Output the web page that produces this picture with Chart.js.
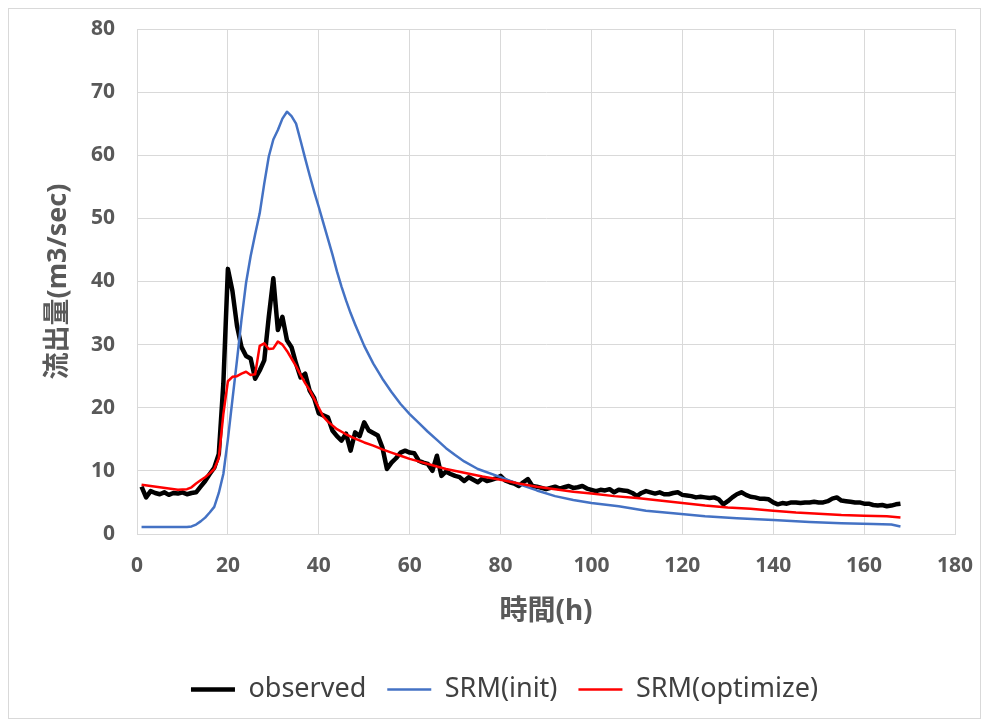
<!DOCTYPE html>
<html>
<head>
<meta charset="utf-8">
<title>流出量</title>
<script src="https://cdn.jsdelivr.net/npm/chart.js@4.4.1/dist/chart.umd.min.js"></script>
<style>
    html, body { margin: 0; padding: 0; background: #ffffff; }
    #wrap { position: relative; width: 987px; height: 724px; }
    #frame {
        position: absolute; left: 8px; top: 8px; width: 971px; height: 709px;
        border: 1px solid #d9d9d9; pointer-events: none;
    }
</style>
</head>
<body>
<div id="wrap">
    <canvas id="flow-chart" width="987" height="724"></canvas>
    <div id="frame"></div>
</div>
<script>
// Observed discharge, one value per hour starting at hour 1
const observedStart = 1;
const observedFlow = [
    7.5, 5.8, 6.8, 6.5, 6.3, 6.6, 6.2, 6.5, 6.4, 6.6,
    6.3, 6.5, 6.6, 7.5, 8.4, 9.5, 10.5, 12.7, 23.8, 42.0,
    38.5, 33.0, 29.6, 28.2, 27.8, 24.6, 25.9, 27.5, 34.4, 40.5,
    32.3, 34.4, 30.7, 29.6, 27.0, 24.8, 25.4, 22.7, 21.5, 19.1,
    18.8, 18.5, 16.4, 15.5, 14.8, 15.9, 13.2, 16.1, 15.5, 17.7,
    16.4, 16.0, 15.6, 13.7, 10.3, 11.3, 12.0, 12.9, 13.2, 12.9,
    12.8, 11.6, 11.3, 11.1, 10.0, 12.4, 9.2, 9.9, 9.5, 9.2,
    9.0, 8.4, 9.0, 8.6, 8.2, 8.8, 8.4, 8.6, 8.8, 9.2,
    8.5, 8.2, 8.0, 7.6, 8.2, 8.7, 7.6, 7.5, 7.3, 7.1,
    7.3, 7.5, 7.2, 7.4, 7.6, 7.3, 7.4, 7.6, 7.2, 7.0,
    6.8, 7.0, 6.9, 7.1, 6.6, 7.0, 6.9, 6.8, 6.5, 6.0,
    6.5, 6.8, 6.6, 6.4, 6.6, 6.3, 6.3, 6.5, 6.6, 6.2,
    6.1, 6.0, 5.8, 5.9, 5.8, 5.7, 5.8, 5.5, 4.7, 5.2,
    5.8, 6.3, 6.6, 6.2, 5.9, 5.8, 5.6, 5.6, 5.5, 5.0,
    4.7, 4.9, 4.8, 5.0, 5.0, 4.9, 5.0, 5.0, 5.1, 5.0,
    5.0, 5.2, 5.6, 5.8, 5.3, 5.2, 5.1, 5.0, 5.0, 4.8,
    4.8, 4.6, 4.5, 4.6, 4.4, 4.5, 4.7, 4.8
];

// SRM with initial parameters
const initHours = [
    1, 11, 12, 13, 14, 15, 16, 17, 18, 19, 20, 21, 22, 23, 24, 25, 26, 27, 28, 29,
    30, 31, 32, 33, 34, 35, 36, 37, 38, 39, 40, 41, 42, 43, 44, 45, 46, 47, 48, 50,
    52, 54, 56, 58, 60, 62, 64, 66, 68, 70, 72, 75, 80, 84, 88, 92, 96, 100, 106, 112,
    118, 125, 132, 140, 148, 155, 162, 166, 168
];
const initFlow = [
    1.1, 1.1, 1.2, 1.5, 2.0, 2.6, 3.4, 4.3, 6.5, 9.5, 15.0, 21.3, 27.5, 34.0, 39.8, 44.0, 47.5, 50.8, 55.5, 59.8,
    62.5, 64.0, 65.8, 66.9, 66.2, 65.0, 62.3, 59.5, 56.8, 54.2, 51.8, 49.3, 46.8, 44.3, 41.6, 39.2, 37.0, 35.0, 33.2, 29.8,
    27.0, 24.6, 22.5, 20.6, 19.0, 17.6, 16.2, 14.9, 13.6, 12.5, 11.5, 10.3, 9.0, 7.9, 6.9, 6.0, 5.4, 4.9, 4.4, 3.7,
    3.3, 2.8, 2.5, 2.2, 1.9, 1.7, 1.6, 1.5, 1.2
];

// SRM with optimized parameters
const optHours = [
    1, 3, 5, 7, 9, 11, 12, 13, 14, 15, 16, 17, 18, 19, 20, 21, 22, 23, 24, 25,
    26, 27, 28, 29, 30, 31, 32, 33, 34, 35, 36, 37, 38, 39, 40, 41, 42, 44, 46, 48,
    50, 52, 54, 56, 58, 60, 62, 65, 68, 72, 76, 80, 84, 88, 92, 96, 100, 105, 110, 115,
    120, 125, 130, 135, 140, 145, 150, 155, 160, 165, 168
];
const optFlow = [
    7.8, 7.6, 7.4, 7.2, 7.0, 7.1, 7.4, 8.0, 8.5, 9.0, 9.6, 10.3, 12.0, 19.0, 24.2, 24.9, 25.0, 25.4, 25.7, 25.2,
    25.3, 29.8, 30.2, 29.3, 29.4, 30.5, 30.0, 29.0, 27.8, 26.6, 25.2, 23.9, 22.8, 21.4, 20.0, 18.6, 17.8, 16.6, 15.8, 15.1,
    14.5, 14.0, 13.4, 12.9, 12.4, 11.9, 11.5, 10.9, 10.3, 9.7, 9.1, 8.6, 8.0, 7.5, 7.1, 6.7, 6.4, 6.0, 5.7, 5.3,
    4.9, 4.5, 4.2, 4.0, 3.7, 3.4, 3.2, 3.0, 2.9, 2.8, 2.6
];

const seriesLabels = ['observed', 'SRM(init)', 'SRM(optimize)'];
const xTitle = '時間(h)';
const yTitle = '流出量(m3/sec)';

const fontFamily = "'Noto Sans', 'Noto Sans CJK JP', sans-serif";
const gridColor = '#d9d9d9';
const textGray = '#595959';

function toPoints(xs, ys) {
    return ys.map((y, i) => ({ x: xs[i], y: y }));
}

// Shift the legend row so it sits where the original one does
const legendShift = {
    id: 'legendShift',
    afterLayout(chart) {
        if (!chart.legend) return;
        chart.legend.left += 27;
        chart.legend.right += 27;
    }
};

function initFlowChart() {
    const ctx = document.getElementById('flow-chart');
    if (!ctx) return;

    new Chart(ctx, {
        type: 'line',
        data: {
            datasets: [
                {
                    label: seriesLabels[0],
                    data: observedFlow.map((y, i) => ({ x: observedStart + i, y: y })),
                    borderColor: '#000000',
                    backgroundColor: '#000000',
                    borderWidth: 4.5,
                    borderJoinStyle: 'round',
                    pointRadius: 0,
                    order: 3
                },
                {
                    label: seriesLabels[1],
                    data: toPoints(initHours, initFlow),
                    borderColor: '#4472c4',
                    backgroundColor: '#4472c4',
                    borderWidth: 2.5,
                    borderJoinStyle: 'round',
                    pointRadius: 0,
                    order: 2
                },
                {
                    label: seriesLabels[2],
                    data: toPoints(optHours, optFlow),
                    borderColor: '#ff0000',
                    backgroundColor: '#ff0000',
                    borderWidth: 2.5,
                    borderJoinStyle: 'round',
                    pointRadius: 0,
                    order: 1
                }
            ]
        },
        options: {
            responsive: false,
            animation: false,
            layout: {
                padding: { left: 0, right: 32, top: 29, bottom: 11 }
            },
            plugins: {
                legend: {
                    position: 'bottom',
                    labels: {
                        color: '#404040',
                        font: { size: 27, family: fontFamily },
                        usePointStyle: true,
                        pointStyle: 'line',
                        pointStyleWidth: 44,
                        padding: 21,
                        sort: (a, b) => a.datasetIndex - b.datasetIndex
                    }
                },
                tooltip: { enabled: false }
            },
            scales: {
                x: {
                    type: 'linear',
                    min: 0,
                    max: 180,
                    afterFit: (scale) => {
                        scale.height = 121;
                        scale.paddingLeft = 0;
                        scale.paddingRight = 0;
                    },
                    grid: { color: gridColor, drawTicks: false },
                    border: { color: gridColor },
                    ticks: {
                        stepSize: 20,
                        padding: 19,
                        color: textGray,
                        font: { size: 21, weight: 'bold', family: fontFamily }
                    },
                    title: {
                        display: true,
                        text: xTitle,
                        color: textGray,
                        padding: { top: 0, bottom: 26 },
                        font: { size: 28, weight: 'bold', family: fontFamily }
                    }
                },
                y: {
                    min: 0,
                    max: 80,
                    afterFit: (scale) => {
                        scale.width = 137;
                        scale.paddingTop = 0;
                        scale.paddingBottom = 0;
                    },
                    grid: { color: gridColor, drawTicks: false },
                    border: { color: gridColor },
                    ticks: {
                        stepSize: 10,
                        padding: 22,
                        color: textGray,
                        font: { size: 21, weight: 'bold', family: fontFamily }
                    },
                    title: {
                        display: true,
                        text: yTitle,
                        color: textGray,
                        padding: { top: 42, bottom: 0 },
                        font: { size: 27, weight: 'bold', family: fontFamily }
                    }
                }
            }
        },
        plugins: [legendShift]
    });
}

initFlowChart();
</script>
</body>
</html>
